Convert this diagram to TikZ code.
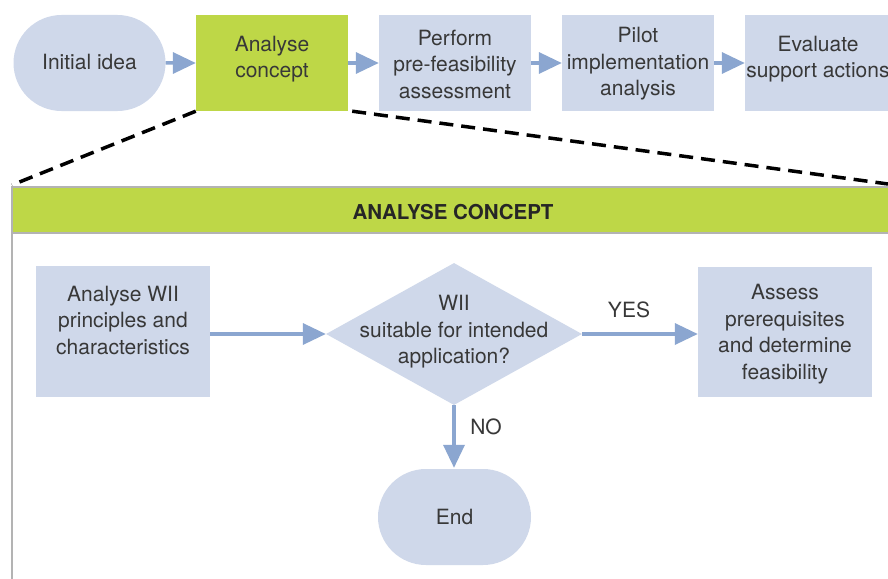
\documentclass[tikz,border=0pt]{standalone}
\usepackage{fontspec}
\setmainfont{TeX Gyre Heros}
\usetikzlibrary{shapes.misc,shapes.geometric,arrows.meta}
\definecolor{boxblue}{HTML}{CFD8EA}
\definecolor{arrowblue}{HTML}{8BA6D0}
\definecolor{limegreen}{HTML}{BED747}
\definecolor{txtgray}{HTML}{383838}
\definecolor{framegray}{HTML}{B3B3B3}
\begin{document}
\begin{tikzpicture}[x=1pt,y=-1pt,
  txt/.style={font=\fontsize{21}{26.5}\selectfont, text=txtgray, align=center, inner sep=0pt},
  bluebox/.style={fill=boxblue, draw=none, inner sep=0pt, minimum width=152pt, minimum height=96pt},
  greenbox/.style={bluebox, fill=limegreen},
  bigbox/.style={fill=boxblue, draw=none, inner sep=0pt, minimum width=174pt, minimum height=130pt},
  terminal/.style={rounded rectangle, fill=boxblue, draw=none, inner sep=0pt, minimum width=152pt, minimum height=96pt},
  decision/.style={diamond, fill=boxblue, draw=none, inner sep=0pt, minimum width=256pt, minimum height=142pt},
  flow/.style={draw=arrowblue, line width=3.5pt, -{Triangle[length=23pt,width=21pt]}},
  zoomline/.style={draw=black, line width=3.5pt, dash pattern=on 14pt off 8pt}
]
\useasboundingbox (0,0) rectangle (888,578);
\clip (0,0) rectangle (888,578);

% top row
\node[terminal] (init) at (89.5,63) {};
\node[txt] (initT) at (89.5,62.5) {Initial idea};
\node[greenbox] (ac) at (272,63) {};
\node[txt] (acT) at (272,59) {Analyse\\concept};
\node[bluebox] (pf) at (455,63) {};
\node[txt] (pfT) at (455,64) {Perform\\pre-feasibility\\assessment};
\node[bluebox] (pi) at (638,63) {};
\node[txt] (piT) at (638,64) {Pilot\\implementation\\analysis};
\node[bluebox] (ev) at (821,63) {};
\node[txt] (evT) at (818,59) {Evaluate\\support actions};

\draw[flow] (init) -- (ac);
\draw[flow] (ac) -- (pf);
\draw[flow] (pf) -- (pi);
\draw[flow] (pi) -- (ev);

% zoom lines
\coordinate (zl) at (12,185);
\coordinate (zr) at (888,184);
\draw[zoomline] (ac.south west) -- (zl);
\draw[zoomline] ([xshift=4pt]ac.south east) -- (zr);

% panel
\fill[white] (12,187) rectangle (900,600);
\fill[limegreen] (12,187) rectangle (900,233);
\draw[framegray, line width=2pt] (12,187) rectangle (900,600);
\draw[framegray, line width=2pt] (12,233) -- (900,233);
\node[font=\fontsize{20.5}{24}\selectfont\bfseries, text=black!85, inner sep=0pt] (hdr) at (453,212) {ANALYSE CONCEPT};

% flowchart
\node[bigbox, minimum height=131pt] (wii) at (123,331.5) {};
\node[txt] (wiiT) at (123,320) {Analyse WII\\principles and\\characteristics};
\node[decision] (dia) at (454,334) {};
\node[txt] (diaT) at (454,332) {WII\\suitable for intended\\application?};
\node[bigbox] (as) at (785,332) {};
\node[txt] (asT) at (785,334) {Assess\\prerequisites\\and determine\\feasibility};
\node[terminal, minimum width=153pt] (end) at (454.5,517) {};
\node[txt] (endT) at (454.5,517) {End};

\draw[flow] (dia.west -| wii.east) -- (dia.west);
\draw[flow] (dia.east) -- (dia.east -| as.west);
\draw[flow] (dia.south) -- ([yshift=1pt]dia.south |- end.north);

\node[txt] (yes) at (629,310) {YES};
\node[txt] (no) at (486,427) {NO};
\end{tikzpicture}
\end{document}
